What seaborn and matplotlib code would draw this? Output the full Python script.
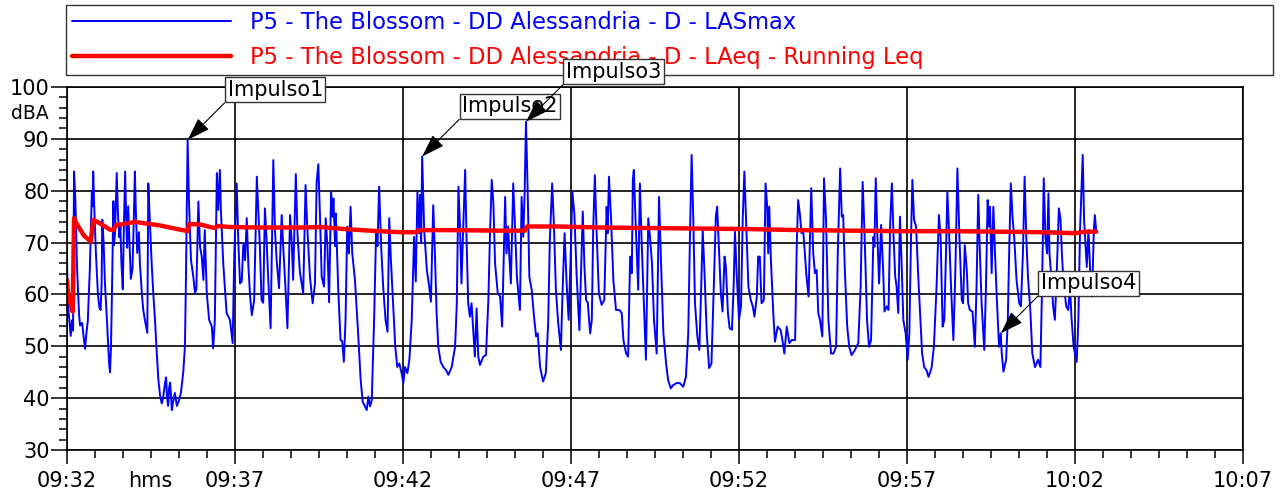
import numpy as np
import pandas as pd
import seaborn as sns
import matplotlib.pyplot as plt
import matplotlib.transforms as mtransforms
from matplotlib.ticker import MultipleLocator

# time axis: minutes after 09:32:00
time_ticks = [0, 5, 10, 15, 20, 25, 30, 35]
time_labels = ['09:32', '09:37', '09:42', '09:47', '09:52', '09:57', '10:02', '10:07']
db_ticks = [30, 40, 50, 60, 70, 80, 90, 100]

label_lasmax = 'P5 - The Blossom - DD Alessandria - D - LASmax'
label_leq = 'P5 - The Blossom - DD Alessandria - D - LAeq - Running Leq'

# LASmax trace
t_lasmax = [
    0.00, 0.03, 0.07, 0.11, 0.15, 0.18, 0.21, 0.25, 0.30, 0.36,
    0.39, 0.45, 0.51, 0.54, 0.57, 0.62, 0.68, 0.74, 0.76, 0.78,
    0.81, 0.86, 0.92, 0.96, 1.00, 1.03, 1.05, 1.09, 1.13, 1.19,
    1.25, 1.28, 1.31, 1.35, 1.38, 1.40, 1.43, 1.48, 1.52, 1.56,
    1.59, 1.62, 1.66, 1.69, 1.73, 1.76, 1.79, 1.82, 1.86, 1.90,
    1.95, 1.99, 2.02, 2.05, 2.09, 2.14, 2.17, 2.23, 2.27, 2.32,
    2.39, 2.42, 2.46, 2.52, 2.57, 2.62, 2.66, 2.72, 2.77, 2.82,
    2.86, 2.92, 2.95, 2.98, 3.01, 3.04, 3.07, 3.12, 3.15, 3.21,
    3.27, 3.33, 3.39, 3.46, 3.51, 3.54, 3.59, 3.63, 3.69, 3.76,
    3.81, 3.85, 3.91, 3.96, 4.01, 4.06, 4.10, 4.16, 4.23, 4.31,
    4.35, 4.40, 4.46, 4.50, 4.55, 4.58, 4.65, 4.75, 4.85, 4.93,
    4.98, 5.05, 5.10, 5.15, 5.20, 5.25, 5.30, 5.35, 5.40, 5.45,
    5.50, 5.57, 5.65, 5.69, 5.74, 5.79, 5.84, 5.89, 5.94, 5.99,
    6.06, 6.14, 6.19, 6.24, 6.31, 6.39, 6.44, 6.49, 6.56, 6.64,
    6.69, 6.73, 6.81, 6.86, 6.93, 7.03, 7.10, 7.15, 7.23, 7.31,
    7.38, 7.43, 7.48, 7.53, 7.58, 7.65, 7.70, 7.75, 7.80, 7.86,
    7.90, 7.93, 7.98, 8.00, 8.07, 8.14, 8.19, 8.24, 8.29, 8.34,
    8.39, 8.44, 8.49, 8.57, 8.67, 8.74, 8.80, 8.87, 8.92, 8.97,
    9.02, 9.07, 9.14, 9.20, 9.24, 9.29, 9.35, 9.41, 9.48, 9.54,
    9.59, 9.64, 9.71, 9.77, 9.83, 9.89, 9.96, 10.01, 10.06, 10.13,
    10.19, 10.26, 10.33, 10.38, 10.43, 10.48, 10.51, 10.54, 10.57, 10.63,
    10.71, 10.78, 10.83, 10.90, 10.95, 11.00, 11.05, 11.12, 11.20, 11.28,
    11.35, 11.45, 11.55, 11.60, 11.65, 11.70, 11.74, 11.79, 11.85, 11.89,
    11.94, 11.99, 12.04, 12.09, 12.14, 12.19, 12.24, 12.29, 12.39, 12.47,
    12.54, 12.59, 12.64, 12.69, 12.74, 12.82, 12.89, 12.95, 12.98, 13.04,
    13.08, 13.13, 13.16, 13.21, 13.28, 13.33, 13.39, 13.48, 13.53, 13.58,
    13.62, 13.66, 13.71, 13.76, 13.83, 13.90, 13.96, 14.01, 14.08, 14.17,
    14.25, 14.32, 14.37, 14.44, 14.49, 14.55, 14.62, 14.70, 14.75, 14.81,
    14.87, 14.93, 14.99, 15.04, 15.10, 15.17, 15.25, 15.35, 15.40, 15.45,
    15.50, 15.57, 15.62, 15.66, 15.71, 15.76, 15.83, 15.91, 15.99, 16.06,
    16.09, 16.13, 16.19, 16.26, 16.34, 16.44, 16.51, 16.56, 16.64, 16.70,
    16.76, 16.81, 16.84, 16.87, 16.92, 16.97, 17.00, 17.05, 17.10, 17.17,
    17.23, 17.30, 17.35, 17.41, 17.47, 17.55, 17.62, 17.68, 17.75, 17.83,
    17.89, 17.97, 18.04, 18.14, 18.24, 18.34, 18.42, 18.49, 18.54, 18.59,
    18.64, 18.69, 18.76, 18.82, 18.87, 18.92, 18.97, 19.04, 19.11, 19.18,
    19.25, 19.31, 19.35, 19.40, 19.46, 19.51, 19.57, 19.61, 19.67, 19.72,
    19.79, 19.84, 19.88, 19.93, 20.00, 20.06, 20.11, 20.16, 20.21, 20.28,
    20.35, 20.41, 20.46, 20.53, 20.57, 20.62, 20.67, 20.74, 20.79, 20.84,
    20.87, 20.90, 20.95, 21.02, 21.07, 21.15, 21.24, 21.30, 21.35, 21.42,
    21.50, 21.57, 21.67, 21.72, 21.76, 21.81, 21.86, 21.91, 21.96, 22.01,
    22.07, 22.11, 22.15, 22.21, 22.26, 22.31, 22.36, 22.41, 22.48, 22.53,
    22.59, 22.66, 22.74, 22.81, 22.89, 22.94, 23.01, 23.06, 23.10, 23.15,
    23.22, 23.28, 23.35, 23.45, 23.55, 23.62, 23.68, 23.74, 23.81, 23.87,
    23.93, 24.00, 24.03, 24.07, 24.12, 24.17, 24.23, 24.29, 24.33, 24.40,
    24.45, 24.50, 24.55, 24.60, 24.65, 24.69, 24.74, 24.79, 24.84, 24.89,
    24.96, 25.02, 25.07, 25.12, 25.16, 25.21, 25.27, 25.34, 25.40, 25.45,
    25.51, 25.58, 25.64, 25.73, 25.80, 25.88, 25.95, 26.00, 26.06, 26.11,
    26.16, 26.20, 26.25, 26.31, 26.38, 26.44, 26.50, 26.56, 26.63, 26.67,
    26.72, 26.78, 26.82, 26.87, 26.95, 27.02, 27.07, 27.12, 27.17, 27.22,
    27.30, 27.35, 27.40, 27.44, 27.47, 27.52, 27.57, 27.62, 27.67, 27.74,
    27.79, 27.82, 27.87, 27.95, 28.00, 28.04, 28.09, 28.14, 28.19, 28.26,
    28.34, 28.39, 28.45, 28.50, 28.55, 28.60, 28.67, 28.73, 28.81, 28.90,
    28.97, 29.02, 29.07, 29.12, 29.17, 29.21, 29.24, 29.30, 29.35, 29.40,
    29.45, 29.52, 29.57, 29.61, 29.66, 29.74, 29.80, 29.85, 29.90, 29.96,
    30.05, 30.10, 30.15, 30.23, 30.27, 30.35, 30.40, 30.45, 30.51, 30.56,
    30.59, 30.63,
]
db_lasmax = [
    66.6, 58.0, 55.0, 52.0, 55.0, 53.0, 83.7, 78.0, 65.0, 56.0,
    54.0, 54.5, 51.0, 49.5, 52.0, 55.0, 65.0, 79.8, 77.0, 83.7,
    77.0, 68.0, 60.0, 57.6, 57.0, 62.0, 74.4, 70.0, 62.0, 55.0,
    47.0, 45.0, 50.0, 65.0, 78.0, 69.5, 72.0, 83.4, 75.0, 71.0,
    73.0, 66.0, 61.0, 72.0, 83.7, 75.0, 69.0, 77.0, 70.0, 63.0,
    65.0, 75.0, 83.7, 76.0, 68.0, 72.0, 66.0, 60.0, 57.0, 55.0,
    52.6, 81.4, 75.0, 66.0, 60.0, 55.0, 50.0, 43.5, 40.5, 39.0,
    40.0, 43.0, 44.0, 40.0, 38.5, 42.0, 43.0, 37.7, 39.0, 41.0,
    38.5, 39.5, 41.0, 45.0, 50.0, 63.0, 89.8, 78.0, 66.6, 63.4,
    60.2, 61.0, 77.9, 69.2, 67.3, 62.8, 72.4, 60.2, 55.1, 53.8,
    49.6, 55.1, 83.4, 76.3, 84.0, 76.3, 66.0, 56.4, 55.1, 50.6,
    67.9, 81.4, 69.9, 62.1, 62.5, 69.9, 66.6, 74.7, 65.3, 59.6,
    56.0, 58.9, 82.7, 76.9, 69.3, 58.9, 58.4, 76.6, 70.5, 62.8,
    53.5, 85.9, 72.4, 66.6, 61.2, 75.3, 68.6, 62.8, 53.5, 75.3,
    69.9, 62.8, 83.2, 71.7, 64.4, 60.2, 81.1, 73.1, 63.4, 58.3,
    62.1, 81.7, 85.1, 75.0, 63.4, 61.5, 74.7, 69.3, 58.5, 79.8,
    75.0, 78.5, 69.3, 75.6, 61.5, 51.2, 51.0, 47.0, 55.1, 73.1,
    67.9, 76.9, 67.9, 62.8, 51.9, 43.5, 39.3, 38.4, 37.7, 40.3,
    38.4, 39.6, 55.1, 72.1, 69.3, 80.8, 69.3, 61.5, 55.1, 52.8,
    74.7, 66.6, 57.7, 49.9, 46.0, 46.7, 44.8, 42.9, 46.0, 44.8,
    47.4, 55.1, 71.1, 62.5, 79.8, 71.8, 79.2, 69.9, 86.6, 72.4,
    64.7, 61.5, 58.6, 77.2, 67.9, 56.4, 49.9, 47.0, 46.0, 45.4,
    44.5, 46.0, 49.9, 58.0, 80.8, 72.4, 62.1, 72.4, 84.0, 71.1,
    58.3, 55.7, 58.3, 53.1, 48.0, 57.3, 48.0, 46.4, 48.0, 48.3,
    58.9, 71.8, 82.1, 77.6, 66.0, 60.2, 59.6, 53.8, 62.1, 78.8,
    67.9, 73.1, 67.9, 62.1, 81.4, 73.7, 63.4, 57.0, 78.8, 71.1,
    79.5, 93.3, 80.1, 63.4, 60.9, 55.7, 51.9, 52.5, 46.0, 43.2,
    44.8, 54.4, 70.5, 81.4, 73.7, 60.9, 54.4, 49.3, 60.9, 71.8,
    62.1, 55.1, 67.3, 79.8, 75.6, 63.4, 53.1, 76.0, 65.3, 58.9,
    58.4, 52.5, 55.1, 72.4, 83.0, 72.4, 60.2, 58.0, 58.9, 76.9,
    71.8, 82.7, 75.0, 62.8, 57.0, 57.0, 56.4, 51.2, 48.6, 48.0,
    67.3, 64.1, 82.1, 84.0, 74.4, 66.0, 60.9, 81.4, 70.5, 58.3,
    47.4, 74.7, 71.1, 66.0, 55.1, 48.6, 78.8, 66.0, 52.5, 46.7,
    43.5, 41.9, 42.5, 42.9, 42.9, 42.2, 44.1, 52.5, 71.1, 86.9,
    74.4, 58.3, 51.9, 49.3, 60.2, 72.4, 64.7, 52.5, 45.8, 46.7,
    61.5, 75.0, 76.9, 69.2, 60.2, 56.7, 67.3, 65.3, 56.4, 53.5,
    53.2, 61.5, 72.1, 64.1, 55.1, 57.7, 74.4, 83.7, 74.4, 61.5,
    58.9, 57.7, 55.7, 59.6, 67.3, 67.3, 58.3, 58.9, 81.4, 76.9,
    67.9, 76.9, 66.6, 56.4, 50.9, 53.8, 53.1, 50.9, 48.6, 53.8,
    50.6, 51.2, 51.2, 69.9, 78.2, 75.6, 71.8, 72.4, 67.9, 63.4,
    59.6, 70.5, 80.5, 67.9, 64.1, 64.7, 56.4, 55.1, 51.9, 82.4,
    74.4, 55.1, 48.6, 48.6, 49.9, 67.9, 84.3, 75.0, 75.3, 64.7,
    53.8, 49.9, 48.3, 49.3, 50.6, 61.5, 81.7, 71.1, 55.1, 49.9,
    51.2, 71.1, 69.2, 82.4, 71.1, 62.1, 73.4, 64.7, 56.7, 57.7,
    57.0, 73.7, 81.4, 71.1, 63.4, 61.5, 56.4, 75.0, 66.0, 55.1,
    52.5, 47.4, 52.5, 71.1, 82.1, 74.4, 73.1, 62.8, 55.1, 48.6,
    46.0, 45.4, 44.1, 45.8, 49.9, 61.5, 75.3, 71.1, 53.8, 55.1,
    67.9, 79.8, 72.4, 61.5, 51.2, 64.7, 84.3, 71.1, 58.9, 58.3,
    69.5, 64.7, 58.3, 57.0, 56.7, 49.9, 61.5, 79.2, 67.9, 58.3,
    49.3, 61.5, 78.2, 73.1, 76.9, 64.1, 76.9, 67.9, 59.6, 49.9,
    52.5, 48.6, 45.1, 47.4, 55.1, 67.9, 81.4, 75.0, 71.1, 62.8,
    58.3, 57.7, 67.9, 82.7, 71.1, 63.4, 57.0, 48.6, 46.0, 47.4,
    46.0, 61.5, 82.4, 71.1, 67.9, 79.5, 67.9, 62.8, 57.7, 55.1,
    62.8, 76.6, 74.4, 67.9, 62.1, 57.7, 57.0, 61.5, 55.1, 49.9,
    47.0, 55.1, 72.4, 86.9, 74.4, 65.3, 72.4, 64.7, 59.6, 72.4,
    75.3, 72.4,
]

# Running Leq trace
t_leq = [0.00, 0.03, 0.09, 0.17, 0.21, 0.30, 0.51, 0.71, 0.78, 0.98,
         1.28, 1.38, 1.46, 1.73, 2.02, 2.32, 2.77, 3.21, 3.60, 3.63,
         3.96, 4.26, 4.40, 4.49, 4.85, 5.74, 6.93, 7.53, 8.27, 9.02,
         9.91, 10.36, 10.51, 11.40, 12.89, 13.63, 13.69, 14.67, 15.86, 17.35,
         18.84, 20.33, 21.82, 23.30, 24.79, 26.28, 27.77, 28.96, 29.55, 30.00,
         30.30, 30.63]
db_leq = [62.8, 60.2, 58.5, 56.7, 74.7, 73.5, 71.3, 70.2, 74.4, 73.7,
          72.5, 72.4, 73.4, 73.6, 74.0, 73.7, 73.3, 72.7, 72.2, 73.6,
          73.5, 73.0, 72.8, 73.2, 73.0, 72.9, 72.9, 73.0, 72.6, 72.3,
          72.0, 72.0, 72.4, 72.4, 72.3, 72.3, 73.1, 73.1, 72.9, 72.8,
          72.7, 72.6, 72.4, 72.3, 72.2, 72.2, 72.1, 72.0, 71.9, 71.8,
          72.1, 72.1]

# markers
impulse_labels = ['Impulso1', 'Impulso2', 'Impulso3', 'Impulso4']
impulse_times = [3.59, 10.57, 13.66, 27.79]

assert len(t_lasmax) == len(db_lasmax)
assert len(t_leq) == len(db_leq)

lasmax = pd.DataFrame({'t': t_lasmax, 'db': db_lasmax})
leq = pd.DataFrame({'t': t_leq, 'db': db_leq})

sns.set_style('white')
plt.rcParams['font.family'] = ['DejaVu Sans']
plt.rcParams.update({'text.color': 'black', 'xtick.color': 'black',
                     'ytick.color': 'black', 'axes.labelcolor': 'black'})

fig = plt.figure(figsize=(12.85, 4.93), dpi=100)
ax = fig.add_axes([67 / 1285, 43 / 493, 1176 / 1285, 363 / 493])

sns.lineplot(data=lasmax, x='t', y='db', ax=ax, color='#0000ff', lw=1.4,
             sort=False, estimator=None, label=label_lasmax)
sns.lineplot(data=leq, x='t', y='db', ax=ax, color='#ff0000', lw=3.2,
             sort=False, estimator=None, label=label_leq)

ax.set_xlim(time_ticks[0], time_ticks[-1])
ax.set_ylim(db_ticks[0], db_ticks[-1])
ax.set_xticks(time_ticks)
ax.set_xticklabels(time_labels)
ax.set_yticks(db_ticks)
ax.set_yticklabels([str(v) for v in db_ticks])
ax.xaxis.set_minor_locator(MultipleLocator(5 / 6))
ax.yaxis.set_minor_locator(MultipleLocator(2))
ax.set_xlabel('')
ax.set_ylabel('')

ax.grid(True, which='major', color='black', lw=1.2)
ax.set_axisbelow(True)
ax.tick_params(axis='x', which='major', direction='out', length=10, width=1.1,
               pad=5, labelsize=15, bottom=True)
ax.tick_params(axis='x', which='minor', direction='out', length=6, width=1.1, bottom=True)
ax.tick_params(axis='y', which='major', direction='out', length=11.5, width=1.1,
               pad=1, labelsize=15, left=True)
ax.tick_params(axis='y', which='minor', direction='out', length=6, width=1.1, left=True)
for s in ax.spines.values():
    s.set_color('black')
    s.set_linewidth(1.2)

# unit labels
ytrans = mtransforms.blended_transform_factory(ax.transAxes, ax.transData)
ax.text(-0.0153, 94.8, 'dBA', transform=ytrans, ha='right', va='center', fontsize=13.5)
ax.text(0.0706, -0.0565, 'hms', transform=ax.transAxes, ha='center', va='top', fontsize=15)

# legend box across the top
leg = ax.legend(loc='upper left', bbox_to_anchor=(66 / 1285, 1 - 73 / 493, 1207 / 1285, 68 / 493),
                bbox_transform=fig.transFigure, mode='expand', borderaxespad=0,
                fontsize=16.3, handlelength=7.0, handletextpad=0.84, labelspacing=0.5,
                borderpad=0.28, fancybox=False, framealpha=1, edgecolor='#333333',
                labelcolor='linecolor')
leg.get_frame().set_linewidth(1.0)
leg.set_zorder(5)

# impulse call-outs
t_arr = np.array(t_lasmax)
for name, tt in zip(impulse_labels, impulse_times):
    i = int(np.argmin(np.abs(t_arr - tt)))
    ax.annotate(name, xy=(t_lasmax[i], db_lasmax[i]), xytext=(40, 40),
                textcoords='offset pixels', ha='left', va='bottom', fontsize=15,
                bbox=dict(boxstyle='square,pad=0.12', fc='white', ec='#333333', lw=1),
                arrowprops=dict(arrowstyle='-|>,head_length=0.9,head_width=0.3',
                                color='black', lw=0.8, relpos=(0, 0),
                                shrinkA=0, shrinkB=0, mutation_scale=16),
                zorder=10, annotation_clip=False)

plt.savefig('out.png', dpi=100)
plt.close()
